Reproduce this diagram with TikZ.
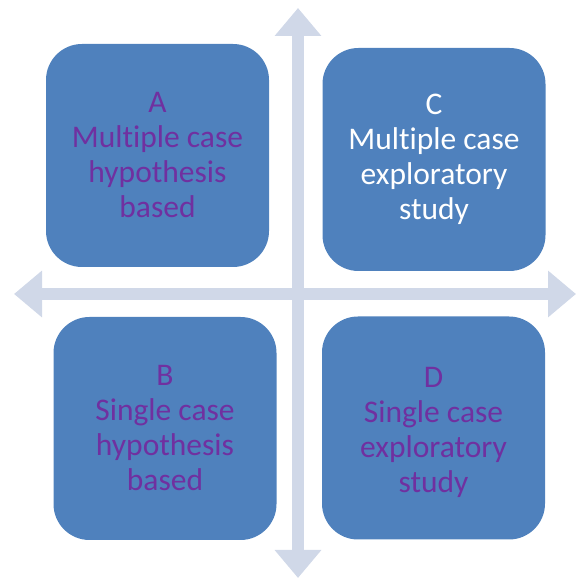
\documentclass[tikz,border=0pt]{standalone}
\usepackage{fontspec}
\setmainfont[Ligatures=NoCommon]{Carlito}
\usetikzlibrary{arrows.meta}
\definecolor{boxblue}{HTML}{4F81BD}
\definecolor{axiscol}{HTML}{D0D8E8}
\definecolor{txtpurple}{HTML}{7030A0}
\begin{document}
\begin{tikzpicture}[x=1pt,y=1pt,
  quad/.style={rectangle, rounded corners=36pt, fill=boxblue, draw=none,
    minimum width=223pt, minimum height=223pt, inner sep=0pt,
    align=center, font=\fontsize{31.5}{35}\selectfont, text=txtpurple},
  axis/.style={line width=12pt, draw=axiscol,
    {Triangle[width=45pt,length=28pt]}-{Triangle[width=45pt,length=28pt]}}]
\useasboundingbox (0,0) rectangle (576,580);
\coordinate (top) at (298,572);
\coordinate (bot) at (298,2);
\coordinate (lft) at (14,286);
\coordinate (rgt) at (576,286);
\draw[axis] (bot) -- (top);
\draw[axis] (lft) -- (rgt);
\node[quad] (A) at (157.5,424.5) {A\\Multiple case\\hypothesis\\based};
\node[quad, text=white] (C) at (434,420.5) {C\\Multiple case\\exploratory\\study};
\node[quad] (B) at (165,151.5) {B\\Single case\\hypothesis\\based};
\node[quad] (D) at (433.5,152) {\\[-5pt]D\\Single case\\exploratory\\study};
\end{tikzpicture}
\end{document}
